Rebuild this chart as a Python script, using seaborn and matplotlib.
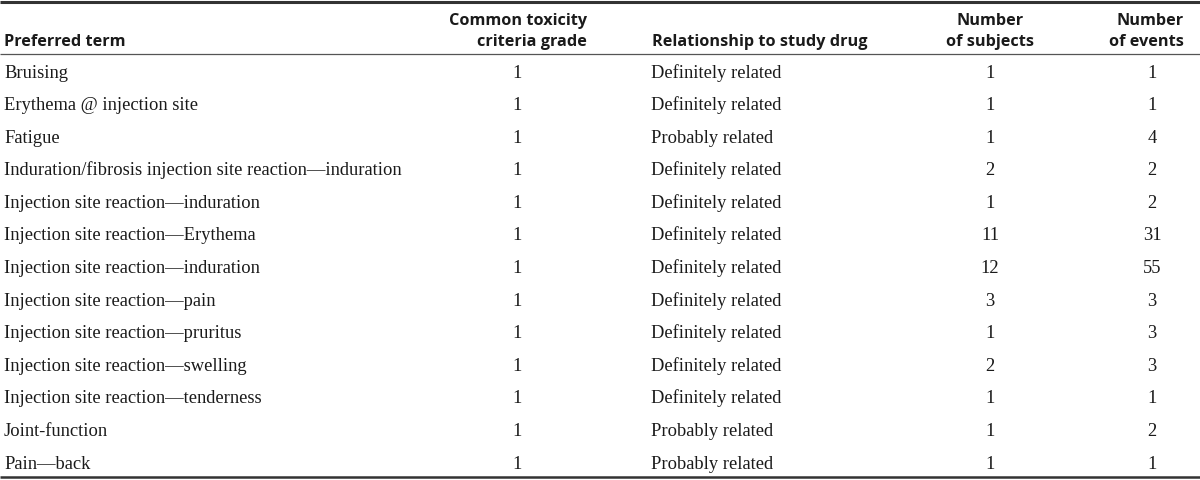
import matplotlib
matplotlib.use("Agg")
import matplotlib.pyplot as plt
import seaborn as sns

# table contents
terms = [
    "Bruising",
    "Erythema @ injection site",
    "Fatigue",
    "Induration/fibrosis injection site reaction\u2014induration",
    "Injection site reaction\u2014induration",
    "Injection site reaction\u2014Erythema",
    "Injection site reaction\u2014induration",
    "Injection site reaction\u2014pain",
    "Injection site reaction\u2014pruritus",
    "Injection site reaction\u2014swelling",
    "Injection site reaction\u2014tenderness",
    "Joint-function",
    "Pain\u2014back",
]
grades = [1, 1, 1, 1, 1, 1, 1, 1, 1, 1, 1, 1, 1]
relation = [
    "Definitely related", "Definitely related", "Probably related",
    "Definitely related", "Definitely related", "Definitely related",
    "Definitely related", "Definitely related", "Definitely related",
    "Definitely related", "Definitely related", "Probably related",
    "Probably related",
]
n_subjects = [1, 1, 1, 2, 1, 11, 12, 3, 1, 2, 1, 1, 1]
n_events = [1, 1, 4, 2, 2, 31, 55, 3, 3, 3, 1, 2, 1]
headers = ["Preferred term", "Common toxicity\ncriteria grade",
           "Relationship to study drug", "Number\nof subjects", "Number\nof events"]

sns.set_theme(style="white")
plt.rcParams["font.family"] = ["Liberation Serif", "DejaVu Serif"]

fig = plt.figure(figsize=(12, 4.81), dpi=100)
ax = fig.add_axes([0, 0, 1, 1])
ax.set_xlim(0, 1200)
ax.set_ylim(481, 0)
ax.axis("off")

body = dict(fontsize=13.3, color="#1a1a1a", va="baseline")
head = dict(fontsize=11.7, color="#1a1a1a", fontweight="bold",
            family=["Open Sans", "DejaVu Sans"], va="baseline")

# header: (x, alignment) per column, lines stacked from the bottom
head_pos = [(4, "left"), (587, "right"), (652, "left"), (990, "center"), (1184, "right")]
for (x, ha), label in zip(head_pos, headers):
    lines = label.split("\n")
    for k, line in enumerate(reversed(lines)):
        ax.text(x, 45.5 - k * 20.5, line, ha=ha, **head)

# rules
ax.hlines(2.5, 0, 1200, color="#333333", lw=2.2)
ax.hlines(54.5, 0, 1200, color="#555555", lw=0.9)
ax.hlines(478, 0, 1200, color="#333333", lw=1.8)

y0, dy = 77.5, 32.6
for i in range(len(terms)):
    y = y0 + i * dy
    ax.text(4, y, terms[i], ha="left", **body)
    ax.text(517, y, str(grades[i]), ha="center", **body)
    ax.text(651, y, relation[i], ha="left", **body)
    ax.text(990, y, str(n_subjects[i]), ha="center", **body)
    ax.text(1152, y, str(n_events[i]), ha="center", **body)

fig.savefig("out.png", dpi=100)
